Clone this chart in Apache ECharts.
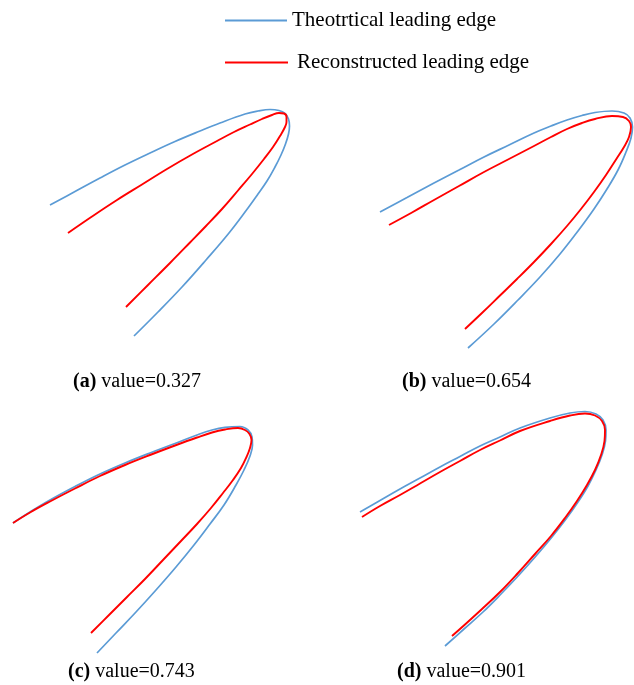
<!DOCTYPE html>
<html>
<head>
<meta charset="utf-8">
<script src="https://cdn.jsdelivr.net/npm/echarts@6/dist/echarts.min.js"></script>
<style>html,body{margin:0;padding:0;background:#fff}#c{width:634px;height:685px}</style>
</head>
<body>
<div id="c"></div>
<script>
// Panel-local coordinates [x, height above panel bottom]
var theoA = [[50,145],[75,158.5],[100,172],[125,185],[150,197],[175,208.5],[200,219],[220,227],[245,236],[258,239],[270,240.5],[279,239.5],[285,236.5],[288.5,231],[289.5,224],[288.5,216],[285.5,206],[281,195],[275,183],[267,169],[258,156],[248,142],[229,117],[206,90],[182,63],[158,38],[134,14]];
var recoA = [[68,117],[92,133.5],[117,150],[142,165.5],[167,181],[192,195.5],[217,209],[234,218],[250,225.5],[262,231],[272,235],[279,237],[284,236.5],[286.5,233],[286.5,228],[284.5,222],[280,214],[273,203],[264,191],[252,176],[238,159.5],[222,141],[206,124],[190,107.5],[170,87],[148,65],[126,43]];
var theoB = [[63,138],[90,152.5],[117,167],[142,180],[167,193],[192,205],[217,217],[234,224],[250,230],[265,234.5],[278,237.5],[295,239],[307,237],[313,232],[315.5,223],[314,212],[309,198],[301,180],[290,161],[277,141],[261,119],[243,96],[223,73],[201,50],[177,26],[151,2]];
var recoB = [[72,125],[95,137.5],[117,150],[142,164],[167,178],[192,191],[217,204],[234,213],[250,221],[265,227],[278,231],[295,234],[306,233],[312,229],[314,223],[312,213],[307,203],[300,192],[289,175],[277,158],[264,141],[250,124],[234,106],[217,88],[200,71],[183,54.5],[166,38],[148,21]];
var theoC = [[13,137],[30,148],[50,160],[75,173.5],[100,186],[125,197],[150,207],[175,216.5],[197,225],[212,230],[225,232.7],[240,233.5],[248,230],[252,223],[252.5,215],[250,204],[244,190],[236,175],[224,155],[210,136],[194,115],[176,93],[156,70],[136,48],[116,27],[97,7]];
var recoC = [[13,137],[30,147.5],[50,158.5],[75,171.5],[100,184],[125,195],[150,205],[175,214.5],[197,222.5],[212,227.5],[225,230.5],[238,232],[245,230],[249.5,226],[251.5,220],[250,212],[246.5,203],[241,192],[233,180],[223,167],[211,152],[197,136],[181,119],[163,100],[145,81],[127,63],[109,45],[91,27]];
var theoD = [[43,148],[63,159.5],[83,171],[103,182],[123,193],[143,203.5],[163,214],[183,223],[203,232],[233,242],[253,247],[268,248.5],[279,246],[286,240],[289,230],[288.5,219],[285,205],[279,190],[271,174],[261,158],[249,141],[235,123],[219,104],[202,85],[184,66],[166,48],[147,31],[128,14]];
var recoD = [[45,143],[63,154],[83,165],[103,176.5],[123,188],[143,199],[163,210],[183,219.5],[203,229],[233,239],[253,244.5],[268,246.5],[278,244.5],[285,239],[288,230],[287.5,219],[284,205],[278,190],[270,175],[260,159],[248,142],[234,124],[218,106],[201,87],[183,68],[165,51],[148,35.5],[135,24]];

var seriesNames = ['Theotrtical leading edge', 'Reconstructed leading edge'];
var panelLetters = ['(a)', '(b)', '(c)', '(d)'];
var panelValues = ['0.327', '0.654', '0.743', '0.901'];

var theo = [theoA, theoB, theoC, theoD];
var reco = [recoA, recoB, recoC, recoD];

var FONT = 'Liberation Serif';
var BLUE = '#5B9BD5';
var RED = '#FF0000';
var panelPos = [[0, 90], [317, 90], [0, 400], [317, 400]];
var labelPos = [[73, 372], [402, 372], [68, 662], [397, 662]];

var grids = [], xAxes = [], yAxes = [], series = [], titles = [];
for (var i = 0; i < 4; i++) {
  grids.push({left: panelPos[i][0], top: panelPos[i][1], width: 317, height: 260});
  xAxes.push({type: 'value', gridIndex: i, min: 0, max: 317, show: false});
  yAxes.push({type: 'value', gridIndex: i, min: 0, max: 260, show: false});
  series.push({
    name: seriesNames[0], type: 'line', xAxisIndex: i, yAxisIndex: i,
    data: theo[i], smooth: 0.4, symbol: 'none', clip: false,
    color: BLUE, lineStyle: {color: BLUE, width: 1.7}, z: 2
  });
  series.push({
    name: seriesNames[1], type: 'line', xAxisIndex: i, yAxisIndex: i,
    data: reco[i], smooth: 0.4, symbol: 'none', clip: false,
    color: RED, lineStyle: {color: RED, width: 1.9}, z: 3
  });
  titles.push({
    text: '{b|' + panelLetters[i] + '} {n|value=' + panelValues[i] + '}',
    left: labelPos[i][0], top: labelPos[i][1], padding: 0,
    textStyle: {
      fontWeight: 'normal',
      rich: {
        b: {fontFamily: FONT, fontWeight: 'bold', fontSize: 20, color: '#000'},
        n: {fontFamily: FONT, fontWeight: 'normal', fontSize: 20, color: '#000'}
      }
    }
  });
}

var chart = echarts.init(document.getElementById('c'));
chart.setOption({
  backgroundColor: '#fff',
  animation: false,
  title: titles,
  legend: [
    {data: [seriesNames[0]], left: 225, top: 10, padding: 0, icon: 'rect', itemWidth: 62, itemHeight: 2,
     selectedMode: false, textStyle: {fontFamily: FONT, fontSize: 21, color: '#000'}},
    {data: [seriesNames[1]], left: 225, top: 52, padding: 0, icon: 'rect', itemWidth: 63, itemHeight: 2,
     selectedMode: false, textStyle: {fontFamily: FONT, fontSize: 21, color: '#000', padding: [0, 0, 0, 4]}}
  ],
  grid: grids,
  xAxis: xAxes,
  yAxis: yAxes,
  series: series
});
</script>
</body>
</html>
